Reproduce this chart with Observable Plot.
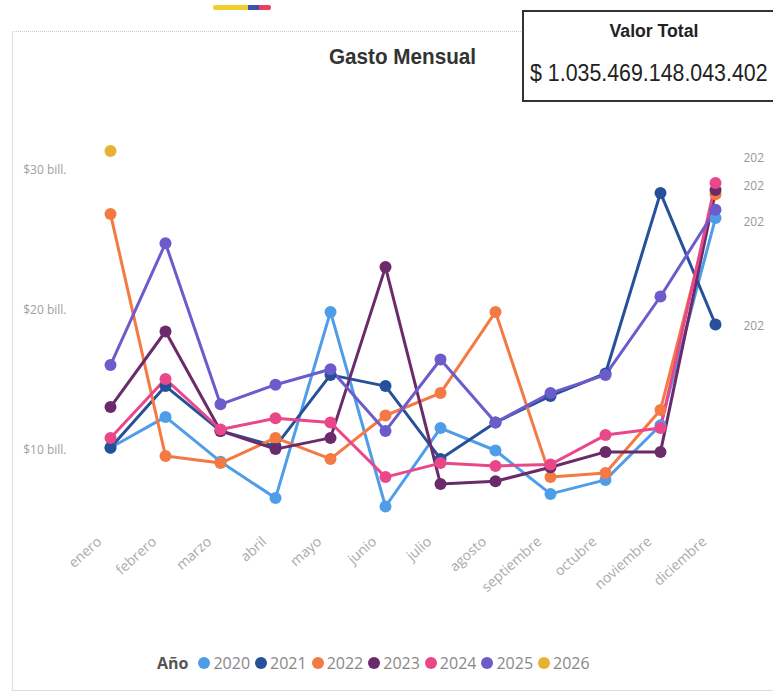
<!DOCTYPE html>
<html>
<head>
<meta charset="utf-8">
<script src="https://cdn.jsdelivr.net/npm/d3@7"></script>
<script src="https://cdn.jsdelivr.net/npm/@observablehq/plot@0.6"></script>
<style>
  html, body { margin: 0; padding: 0; background: #fff; width: 773px; height: 694px; overflow: hidden; }
  #wrap { position: relative; width: 773px; height: 694px; }
  #frame { position: absolute; left: 12px; top: 31px; width: 760px; height: 658px; border-left: 1px solid #ddd; border-top: 1px dotted #ccc; border-bottom: 1px solid #ddd; }
  #flag { position: absolute; left: 213px; top: 5px; width: 58px; height: 5px; display: flex; border-radius: 2px; overflow: hidden; }
  #title { position: absolute; left: 300px; width: 205px; top: 44px; text-align: center; font-family: "Liberation Sans Narrow", "Liberation Sans", sans-serif; font-weight: bold; font-size: 22px; color: #333; transform: scaleX(0.94); transform-origin: 50% 50%; }
  #box { position: absolute; left: 522px; top: 10px; width: 270px; height: 88px; border: 2px solid #333; background: #fff; font-family: "Liberation Sans Narrow", "Liberation Sans", sans-serif; color: #222; }
  #box .t { position: absolute; left: 0; width: 260px; top: 9px; text-align: center; font-weight: bold; font-size: 18px; transform: scaleX(0.98); transform-origin: 50% 50%; }
  #box .v { position: absolute; left: 6px; top: 47px; font-size: 24px; white-space: nowrap; transform: scaleX(0.89); transform-origin: 0 50%; }
  #legend { position: absolute; left: 157px; top: 652px; font-family: "Open Sans", sans-serif; font-size: 16px; color: #888; display: flex; align-items: center; white-space: nowrap; }
  #legend .h { font-weight: bold; color: #555; margin-right: 10px; }
  #legend .it { display: flex; align-items: center; margin-right: 5px; }
  #legend .dot { width: 12px; height: 12px; border-radius: 50%; margin-right: 3px; }
  #chart { position: absolute; left: 0; top: 0; }
</style>
</head>
<body>
<div id="wrap">
  <div id="frame"></div>
  <div id="flag"></div>
  <div id="chart"></div>
  <div id="title">Gasto Mensual</div>
  <div id="box"><div class="t">Valor Total</div><div class="v" id="total"></div></div>
  <div id="legend"></div>
</div>
<script>
const months = ["enero","febrero","marzo","abril","mayo","junio","julio","agosto","septiembre","octubre","noviembre","diciembre"];
const years = ["2020","2021","2022","2023","2024","2025","2026"];
const colors = ["#4f9de8","#26509a","#f47942","#6b2b6b","#e9478a","#6c5bcb","#e9b131"];
// Monthly spending in billions (bill.)
const v2020 = [10.2, 12.4, 9.2, 6.6, 19.9, 6.0, 11.6, 10.0, 6.9, 7.9, 11.8, 26.6];
const v2021 = [10.2, 14.6, 11.4, 10.3, 15.4, 14.6, 9.4, 12.0, 13.9, 15.5, 28.4, 19.0];
const v2022 = [26.9, 9.6, 9.1, 10.9, 9.4, 12.5, 14.1, 19.9, 8.1, 8.4, 12.9, 28.3];
const v2023 = [13.1, 18.5, 11.4, 10.1, 10.9, 23.1, 7.6, 7.8, 8.8, 9.9, 9.9, 28.6];
const v2024 = [10.9, 15.1, 11.5, 12.3, 12.0, 8.1, 9.1, 8.9, 9.0, 11.1, 11.6, 29.1];
const v2025 = [16.1, 24.8, 13.3, 14.7, 15.8, 11.4, 16.5, 12.0, 14.1, 15.4, 21.0, 27.2];
const v2026 = [31.4];
const yTicks = [10, 20, 30];
const endLabels = ["202", "202", "202", "202"];
const endLabelValues = [30.9, 28.9, 26.3, 18.9];
const totalText = "$ 1.035.469.148.043.402";
const flagColors = ["#f2cd2e", "#f2cd2e", "#f2cd2e", "#3b55a8", "#e8405a"];

const series = [v2020, v2021, v2022, v2023, v2024, v2025, v2026];
const data = [];
series.forEach((arr, i) => arr.forEach((v, j) => data.push({year: years[i], month: months[j], value: v})));
const labelData = endLabels.map((t, i) => ({t, v: endLabelValues[i]}));

const plot = Plot.plot({
  width: 773,
  height: 694,
  marginLeft: 108,
  marginRight: 56,
  marginTop: 100,
  marginBottom: 174,
  style: {background: "transparent", fontFamily: "'Open Sans', sans-serif", overflow: "visible"},
  x: {type: "point", domain: months, padding: 0},
  y: {domain: [5, 35]},
  color: {domain: years, range: colors},
  marks: [
    Plot.axisY({ticks: yTicks, tickSize: 0, tickPadding: 42, tickFormat: d => `$${d} bill.`, fontSize: 12, fill: "#a0a0a0", label: null}),
    Plot.axisX({tickSize: 0, tickPadding: 19, tickRotate: -42, fontSize: 14, fill: "#aaaaaa", dx: -11, label: null}),
    Plot.line(data, {x: "month", y: "value", z: "year", stroke: "year", strokeWidth: 3}),
    Plot.dot(data, {x: "month", y: "value", fill: "year", r: 6}),
    Plot.text(labelData, {x: () => "diciembre", y: "v", text: "t", dx: 28, textAnchor: "start", fontSize: 12, fill: "#999"})
  ]
});
document.getElementById("chart").appendChild(plot);

document.getElementById("total").textContent = totalText;
const flag = document.getElementById("flag");
flagColors.forEach(c => { const s = document.createElement("div"); s.style.flex = "1"; s.style.background = c; flag.appendChild(s); });
const legend = document.getElementById("legend");
const h = document.createElement("span"); h.className = "h"; h.textContent = "Año"; legend.appendChild(h);
years.forEach((y, i) => {
  const it = document.createElement("span"); it.className = "it";
  const d = document.createElement("span"); d.className = "dot"; d.style.background = colors[i];
  const t = document.createElement("span"); t.textContent = y;
  it.appendChild(d); it.appendChild(t); legend.appendChild(it);
});
</script>
</body>
</html>
